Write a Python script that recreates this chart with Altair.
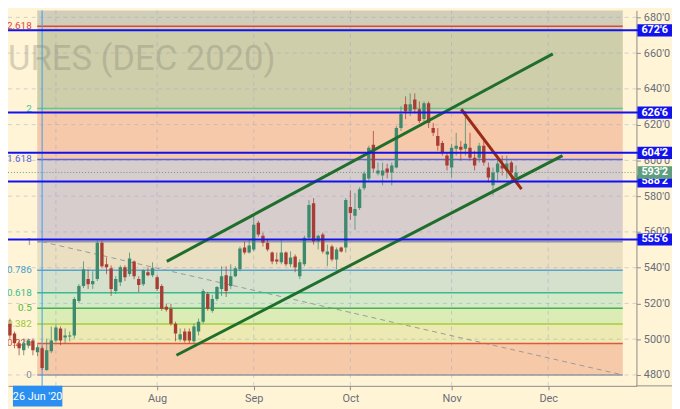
import altair as alt
import pandas as pd

# ---------------- data ----------------
bar_index = list(range(-8, 104))
opens = [524.2, 508.7, 503.2, 497.7, 493.8, 496.6, 499.3, 492.7,
         494.9, 482.8, 493.3, 499.3, 506.0, 501.0, 501.5, 502.1, 521.4, 529.7,
         533.6, 530.8, 533.6, 554.0, 541.9, 539.7, 527.0, 531.9, 540.2, 536.4,
         543.5, 533.6, 530.8, 537.5, 535.8, 534.7, 529.7, 518.1, 517.0, 508.7,
         499.9, 504.3, 504.3, 498.8, 504.3, 509.8, 525.3, 515.9, 522.5, 528.1,
         535.8, 529.7, 535.2, 539.1, 551.3, 548.5, 550.2, 565.1, 557.9, 554.0,
         548.5, 544.6, 543.0, 548.5, 541.9, 546.3, 535.2, 541.9, 556.8, 576.1,
         554.6, 558.5, 547.4, 551.8, 544.6, 551.3, 551.3, 573.9, 569.0, 573.4,
         584.4, 589.9, 608.7, 592.7, 591.6, 595.5, 593.3, 596.0, 618.1, 631.4,
         627.5, 634.1, 628.6, 623.1, 631.9, 618.1, 613.7, 609.8, 602.7, 596.0,
         606.5, 607.6, 606.5, 607.1, 601.5, 601.5, 608.2, 596.0, 586.1, 593.3,
         597.1, 594.4, 598.8, 590.5]
highs = [527.0, 511.5, 504.3, 499.3, 500.4, 500.4, 500.4, 497.1,
         496.0, 500.4, 507.1, 508.2, 507.1, 506.0, 504.3, 523.6, 530.8, 543.5,
         539.1, 538.0, 555.1, 555.1, 545.7, 541.3, 535.2, 541.3, 541.3, 548.5,
         544.1, 535.2, 539.1, 540.2, 543.0, 535.8, 530.8, 519.8, 519.8, 509.8,
         506.0, 506.0, 506.0, 508.7, 511.5, 528.1, 526.4, 524.8, 529.7, 540.8,
         540.8, 541.9, 540.8, 551.8, 554.6, 555.7, 569.5, 566.2, 559.6, 555.7,
         549.1, 548.5, 555.7, 549.1, 549.1, 547.4, 544.6, 557.9, 577.8, 578.9,
         558.5, 559.6, 552.9, 552.9, 551.3, 551.8, 578.9, 583.3, 581.7, 585.0,
         593.8, 608.2, 616.5, 598.8, 598.8, 598.2, 598.8, 619.2, 630.3, 635.8,
         637.5, 637.5, 633.0, 633.0, 633.0, 620.9, 618.1, 610.9, 604.3, 609.3,
         615.4, 610.9, 627.5, 615.4, 605.4, 609.8, 610.9, 598.8, 596.0, 602.7,
         602.7, 602.7, 599.9, 597.1]
lows = [506.0, 500.4, 494.9, 491.0, 491.0, 494.9, 491.0, 490.5,
        482.8, 482.2, 492.2, 498.2, 496.6, 497.7, 498.8, 500.4, 520.3, 528.6,
        528.1, 528.1, 532.5, 539.7, 536.4, 524.2, 525.3, 529.7, 532.5, 535.2,
        533.6, 526.4, 529.7, 535.2, 534.7, 527.0, 515.9, 515.4, 507.6, 498.8,
        498.8, 498.2, 497.7, 497.7, 502.1, 508.7, 515.9, 514.8, 521.4, 524.2,
        523.6, 528.1, 534.7, 538.0, 547.4, 547.9, 549.1, 557.3, 551.8, 549.1,
        541.9, 541.9, 541.9, 540.8, 540.2, 537.5, 533.6, 540.8, 555.7, 552.9,
        550.2, 547.9, 540.8, 543.5, 539.1, 548.5, 548.5, 566.7, 561.2, 572.3,
        583.3, 588.8, 593.3, 591.6, 586.1, 589.9, 586.1, 595.5, 616.5, 623.1,
        624.8, 626.4, 620.9, 620.9, 618.1, 613.7, 605.4, 602.7, 594.4, 590.5,
        602.7, 599.9, 602.7, 599.9, 594.4, 598.8, 597.1, 587.7, 580.6, 588.8,
        591.6, 589.9, 588.8, 589.9]
closes = [509.8, 502.1, 497.7, 494.9, 497.7, 499.3, 493.8, 495.5,
          483.9, 493.8, 499.3, 506.5, 499.3, 502.1, 502.1, 522.5, 529.7, 539.1,
          530.8, 532.5, 554.0, 540.8, 540.2, 528.1, 533.6, 540.2, 534.7, 545.2,
          535.2, 530.3, 538.6, 535.8, 539.7, 528.1, 517.0, 516.5, 508.7, 503.2,
          502.7, 499.3, 499.3, 507.1, 509.8, 527.0, 517.0, 522.5, 529.2, 535.2,
          527.0, 535.2, 539.7, 550.7, 548.5, 552.4, 564.0, 558.5, 554.0, 550.2,
          543.5, 543.5, 548.5, 541.9, 545.7, 540.2, 543.0, 556.8, 575.0, 554.6,
          557.9, 549.1, 549.1, 544.6, 550.2, 549.1, 577.8, 570.6, 572.8, 583.9,
          592.7, 607.1, 595.5, 594.4, 594.4, 593.3, 597.1, 618.1, 625.9, 627.5,
          631.4, 628.6, 622.0, 631.9, 620.9, 615.4, 608.2, 604.3, 597.1, 607.1,
          608.2, 606.0, 609.3, 601.5, 597.1, 608.2, 598.8, 590.5, 593.3, 598.2,
          595.5, 598.2, 593.3, 593.25]

fib_low = 480.0
fib_high = 554.5
fib_ratios = [0, 0.236, 0.382, 0.5, 0.618, 0.786, 1, 1.618, 2, 2.618]
fib_texts = ["0", "0.236", "0.382", "0.5", "0.618", "0.786", "1", "1.618", "2", "2.618"]
fib_line_colors = ["#9598a1", "#e0563f", "#a3cf3a", "#4caf50", "#3dbb8c",
                   "#5aa5cf", "#9598a1", "#5a66e0", "#4fd08f", "#e0463f"]
fib_label_colors = ["#8a8d96", "#e0563f", "#9bc832", "#52b83a", "#3dbb8c",
                    "#4a9fd0", "#8a8d96", "#5a66e0", "#3fc890", "#e0463f"]
fib_zone_colors = ["#f6caa9", "#ece9b2", "#dcecb6", "#d3e9c8", "#d5e1cd",
                   "#ebdfc1", "#d8cdcd", "#f6c9aa", "#cfceab", "#d0cdb9"]

level_prices = [672.75, 626.75, 604.25, 588.25, 555.75]
level_texts = ["672'6", "626'6", "604'2", "588'2", "555'6"]
last_price = 593.25
last_text = "593'2"

month_ticks = [3, 25, 46, 67, 89, 110]
month_names = ["", "Aug", "Sep", "Oct", "Nov", "Dec"]
price_ticks = list(range(480, 681, 20))

trend_x1 = [27.1, 29.2, 91.1, 0.0]
trend_y1 = [543.5, 491.0, 628.6, 554.5]
trend_x2 = [111.0, 113.1, 104.2, 126.2]
trend_y2 = [659.6, 602.7, 583.9, 480.0]

watermark = "URES (DEC 2020)"
cursor_date = "26 Jun '20"

# ---------------- chart ----------------
FONT = "Roboto"
W, H = 636, 380
xs = alt.Scale(domain=[-6.34, 128.1], nice=False, zero=False)
ys = alt.Scale(domain=[473.9, 683.9], nice=False, zero=False)

label_expr = ""
for t, n in zip(month_ticks, month_names):
    label_expr += f"datum.value == {t} ? '{n}' : "
label_expr += "''"

xaxis = alt.Axis(values=month_ticks, labelExpr=label_expr, grid=False, title=None,
                 domainColor="#8c8c8c", tickColor="#8c8c8c", tickSize=4,
                 labelColor="#6a6d78", labelFontSize=11, labelFont=FONT, labelPadding=3)
yaxis = alt.Axis(orient="right", values=price_ticks,
                 labelExpr="format(datum.value, 'd') + \"'0\"", grid=False, title=None,
                 domainColor="#8c8c8c", tickColor="#8c8c8c", tickSize=4,
                 labelColor="#6a6d78", labelFontSize=11, labelFont=FONT, labelPadding=3)


def X(f):
    return alt.X(f, type="quantitative", scale=xs, axis=xaxis)


def Y(f):
    return alt.Y(f, type="quantitative", scale=ys, axis=yaxis)


# fib zones
zone_lo = [fib_low + r * (fib_high - fib_low) for r in fib_ratios]
zone_hi = zone_lo[1:] + [700.0]
zones = pd.DataFrame({"x1": [-1.06] * 10, "x2": [126.2] * 10, "lo": zone_lo, "hi": zone_hi,
                      "c": fib_zone_colors})
zone_layer = alt.Chart(zones).mark_rect(clip=True).encode(
    x=X("x1"), x2="x2", y=Y("lo"), y2="hi", color=alt.Color("c:N", scale=None))

wm = alt.Chart(pd.DataFrame({"t": [watermark]})).mark_text(
    align="left", baseline="alphabetic", font=FONT, fontSize=35, color="#7d7b6a", opacity=0.3
).encode(x=alt.value(0), y=alt.value(60), text="t:N")

# grid
hgrid = alt.Chart(pd.DataFrame({"p": price_ticks})).mark_rule(
    strokeDash=[4, 4], color="#9aa3c4", opacity=0.45, strokeWidth=1).encode(
    y=Y("p"), x=alt.value(0), x2=alt.value(W))
vgrid = alt.Chart(pd.DataFrame({"m": month_ticks})).mark_rule(
    strokeDash=[4, 4], color="#9aa3c4", opacity=0.45, strokeWidth=1, clip=True).encode(
    x=X("m"), y=alt.value(0), y2=alt.value(H))

# fib level lines and labels
levels = pd.DataFrame({"p": zone_lo, "c": fib_line_colors, "lc": fib_label_colors, "t": fib_texts,
                       "x1": [-1.06] * 10, "x2": [126.2] * 10})
level_lines = alt.Chart(levels).mark_rule(strokeWidth=1.5).encode(
    x=X("x1"), x2="x2", y=Y("p"), color=alt.Color("c:N", scale=None))
level_labels = alt.Chart(levels).mark_text(align="right", baseline="middle", font=FONT, fontSize=10).encode(
    x=alt.value(24), y=Y("p"), text="t:N", color=alt.Color("lc:N", scale=None))

# diagonal lines
tl = pd.DataFrame({"x1": trend_x1, "y1": trend_y1, "x2": trend_x2, "y2": trend_y2,
                   "c": ["#1f6e2c", "#1f6e2c", "#9a2c17", "#9b9b9b"]})
dashed = alt.Chart(tl.iloc[[3]]).mark_rule(strokeDash=[5, 4], strokeWidth=1, color="#999999").encode(
    x=X("x1"), y=Y("y1"), x2="x2", y2="y2")
trends = alt.Chart(tl.iloc[[0, 1, 2]]).mark_rule(strokeWidth=3, strokeCap="butt").encode(
    x=X("x1"), y=Y("y1"), x2="x2", y2="y2", color=alt.Color("c:N", scale=None))

# last price dotted line
last_line = alt.Chart(pd.DataFrame({"p": [last_price]})).mark_rule(
    strokeDash=[1, 2], color="#5b9c7c", strokeWidth=1).encode(
    y=Y("p"), x=alt.value(0), x2=alt.value(W))

# cursor line
cursor = alt.Chart(pd.DataFrame({"i": [0]})).mark_rule(color="#3d9cf2", strokeWidth=1).encode(
    x=X("i"), y=alt.value(0), y2=alt.value(H))

# candles
cdf = pd.DataFrame({"i": bar_index, "o": opens, "h": highs, "l": lows, "c": closes})
cdf["dir"] = ["up" if c >= o else "down" for o, c in zip(opens, closes)]
ccol = alt.Color("dir:N", scale=alt.Scale(domain=["up", "down"], range=["#3e8a6e", "#a83d35"]), legend=None)
wicks = alt.Chart(cdf).mark_rule(strokeWidth=1, opacity=0.75, clip=True).encode(
    x=X("i"), y=Y("l"), y2="h", color=ccol)
bodies = alt.Chart(cdf).mark_bar(size=3.4, clip=True).encode(
    x=X("i"), y=Y("o"), y2="c", color=ccol)

# blue horizontal levels
blue = pd.DataFrame({"p": level_prices, "t": level_texts})
blue["lo"] = blue["p"] - 3.4
blue["hi"] = blue["p"] + 3.4
blue_lines = alt.Chart(blue).mark_rule(color="#1212ee", strokeWidth=2).encode(
    y=Y("p"), x=alt.value(0), x2=alt.value(W + 2))
blue_boxes = alt.Chart(blue).mark_rect(color="#1212ee").encode(
    y=Y("lo"), y2="hi", x=alt.value(W + 1), x2=alt.value(W + 36))
blue_text = alt.Chart(blue).mark_text(color="white", font=FONT, fontSize=11, fontWeight="bold",
                                      align="center", baseline="middle").encode(
    y=Y("p"), x=alt.value(W + 18.5), text="t:N")

last = pd.DataFrame({"p": [last_price], "t": [last_text]})
last["lo"] = last["p"] - 3.5
last["hi"] = last["p"] + 3.5
last_box = alt.Chart(last).mark_rect(color="#5e9e7e").encode(
    y=Y("lo"), y2="hi", x=alt.value(W + 1), x2=alt.value(W + 36))
last_txt = alt.Chart(last).mark_text(color="white", font=FONT, fontSize=11, fontWeight="bold",
                                     align="center", baseline="middle").encode(
    y=Y("p"), x=alt.value(W + 18.5), text="t:N")

# bottom axis line extension to the right
ext = alt.Chart(pd.DataFrame({"a": [0]})).mark_rule(color="#8c8c8c").encode(
    x=alt.value(W), x2=alt.value(W + 36), y=alt.value(H))

# cursor date box
date_df = pd.DataFrame({"t": [cursor_date]})
date_box = alt.Chart(date_df).mark_rect(color="#2a8ff0").encode(
    x=alt.value(5), x2=alt.value(55), y=alt.value(H), y2=alt.value(H + 21))
date_txt = alt.Chart(date_df).mark_text(color="white", font=FONT, fontSize=11, align="center",
                                        baseline="middle").encode(
    x=alt.value(30), y=alt.value(H + 11), text="t:N")

chart = alt.layer(
    zone_layer, wm, hgrid, vgrid, dashed, level_lines, level_labels, last_line, cursor,
    wicks, bodies, trends, blue_lines, blue_boxes, blue_text, last_box, last_txt,
    ext, date_box, date_txt
).properties(
    width=W, height=H,
    autosize=alt.AutoSizeParams(type="none"),
    padding={"left": 0, "top": 0, "right": 36, "bottom": 21},
    background="#fff4d6",
).configure_view(stroke=None, fill="#fff4d6")

chart.save("out.html", embed_options={"renderer": "svg", "actions": False})
